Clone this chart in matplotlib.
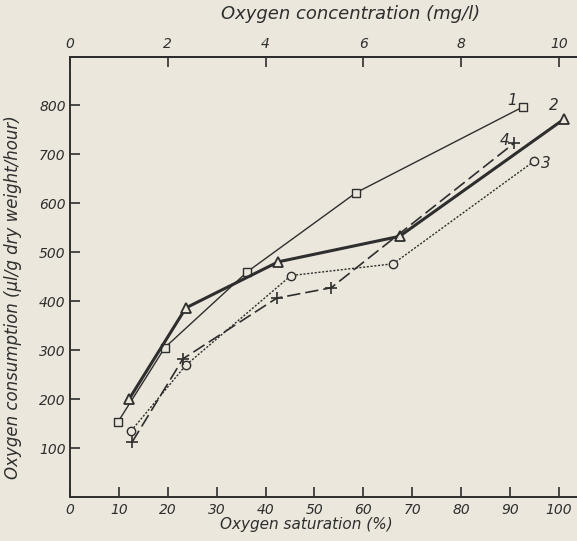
import matplotlib.pyplot as plt

# oxygen saturation (%) and oxygen consumption (ul/g dry weight/hour)
sat1 = [9.8, 19.4, 36.3, 58.5, 92.6]
cons1 = [153, 305, 460, 621, 796]

sat2 = [12.1, 23.7, 42.6, 67.4, 101.0]
cons2 = [200, 386, 480, 532, 771]

sat3 = [12.5, 23.7, 45.2, 66.1, 95.0]
cons3 = [135, 269, 452, 476, 686]

sat4 = [12.7, 23.1, 42.3, 53.4, 90.8]
cons4 = [112, 282, 406, 427, 722]

series_names = ['1', '2', '3', '4']
x_ticks = [0, 10, 20, 30, 40, 50, 60, 70, 80, 90, 100]
y_ticks = [100, 200, 300, 400, 500, 600, 700, 800]
top_ticks = [0, 2, 4, 6, 8, 10]

bg = '#ebe7dc'
ink = '#2e2e2e'

fig = plt.figure(figsize=(5.77, 5.41), dpi=100, facecolor=bg)
ax = fig.add_axes([0.1213, 0.0813, 0.8787, 0.8133], facecolor=bg)

ax.plot(sat1, cons1, color=ink, lw=1.0, marker='s', ms=6, mfc=bg, mec=ink, mew=1.0)
ax.plot(sat2, cons2, color=ink, lw=2.2, marker='^', ms=7, mfc=bg, mec=ink, mew=1.3)
ax.plot(sat3, cons3, color=ink, lw=1.0, ls=(0, (1.5, 1.2)), marker='o', ms=6, mfc=bg, mec=ink, mew=1.0)
ax.plot(sat4, cons4, color=ink, lw=1.2, ls=(0, (8, 3)), marker='+', ms=8, mec=ink, mew=1.2)

# curve numbers at the end points
offsets = [(-11, 6), (-10, 14), (11, -3), (-9, 3)]
ends = [(sat1[-1], cons1[-1]), (sat2[-1], cons2[-1]), (sat3[-1], cons3[-1]), (sat4[-1], cons4[-1])]
for name, (ex, ey), off in zip(series_names, ends, offsets):
    ax.annotate(name, (ex, ey), xytext=off, textcoords='offset pixels',
                ha='center', va='center', fontsize=11, style='italic', color=ink)

ax.set_xlim(0, 103.7)
ax.set_ylim(0, 898)

ax.spines['right'].set_visible(False)
for s in ['left', 'bottom', 'top']:
    ax.spines[s].set_color(ink)
    ax.spines[s].set_linewidth(1.4)

ax.set_xticks(x_ticks)
ax.set_xticklabels([str(t) for t in x_ticks], fontsize=10, style='italic', color=ink)
ax.set_yticks(y_ticks)
ax.set_yticklabels([str(t) for t in y_ticks], fontsize=10, style='italic', color=ink)
ax.tick_params(axis='x', direction='in', length=7, width=1.2, color=ink, pad=4)
ax.tick_params(axis='y', direction='in', length=7, width=1.2, color=ink, pad=3)

ax.set_xlabel('Oxygen saturation (%)', fontsize=11, style='italic', color=ink)
ax.xaxis.set_label_coords(0.467, -0.045)
ax.set_ylabel('Oxygen consumption (\u03bcl/g dry weight/hour)', fontsize=12, style='italic', color=ink)
ax.yaxis.set_label_coords(-0.095, 0.455)

# top axis: oxygen concentration in mg/l
top = ax.secondary_xaxis('top', functions=(lambda v: v / 10, lambda v: v * 10))
top.set_xticks(top_ticks)
top.set_xticklabels([str(t) for t in top_ticks], fontsize=10, style='italic', color=ink)
top.tick_params(direction='in', length=7, width=1.2, color=ink, pad=4)
top.spines['top'].set_color(ink)
top.spines['top'].set_linewidth(1.4)
fig.text(0.607, 0.975, 'Oxygen concentration (mg/l)', fontsize=13, style='italic',
         color=ink, ha='center', va='center')

fig.savefig('out.png', dpi=100, facecolor=bg)
